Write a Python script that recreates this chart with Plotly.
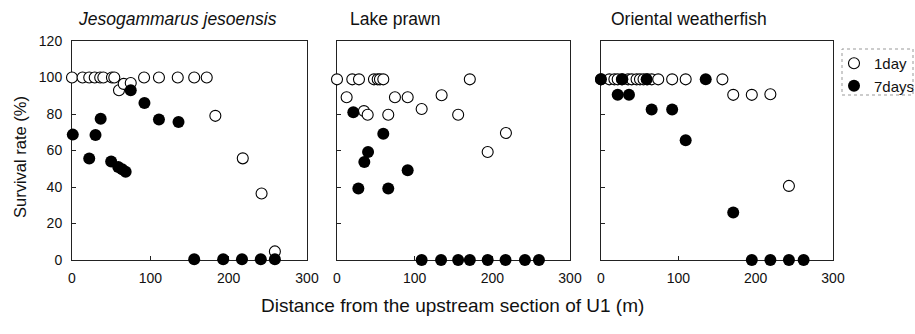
import plotly.graph_objects as go

# ---------------- data ----------------
panel_titles = ["<i>Jesogammarus jesoensis</i>", "Lake prawn", "Oriental weatherfish"]
series_names = ["1day", "7days"]

# Jesogammarus jesoensis
jj_day1_x = [0, 13.5, 22, 29, 36, 40, 51, 54, 60, 66, 75, 92, 111, 135, 156, 172, 183, 218, 242, 259]
jj_day1_y = [100, 100, 100, 100, 100, 100, 100, 100, 93, 96.5, 97, 100, 100, 100, 100, 100, 79, 55.7, 36.4, 4.7]
jj_day7_x = [1, 22, 30, 36.6, 50, 59, 64, 68.5, 75, 92.5, 111, 136, 156, 193, 217, 241, 259]
jj_day7_y = [68.7, 55.6, 68.5, 77.4, 54, 51, 49.7, 48.3, 93, 86, 77, 75.6, 0.4, 0.4, 0.4, 0.4, 0.4]

# Lake prawn
lp_day1_x = [0, 12.4, 19.7, 28.3, 34.7, 39.5, 47.6, 52.4, 55.3, 59.6, 66, 74.6, 91, 109, 134.7, 156, 171, 194, 217.5]
lp_day1_y = [99, 89.2, 99, 99, 81.6, 79.6, 99, 99, 99, 99, 79.6, 89.2, 89.2, 82.7, 90.3, 79.6, 99, 59.2, 69.6]
lp_day7_x = [21, 27.5, 35.2, 40, 59.6, 66, 91, 109, 134, 156, 171, 194, 217, 242, 260]
lp_day7_y = [81, 39.2, 53.7, 59.2, 69.2, 39.2, 49.2, 0, 0, 0, 0, 0, 0, 0, 0]

# Oriental weatherfish
ow_day1_x = [0, 10.8, 17.3, 21.6, 27, 35, 39.7, 46, 50.4, 55, 60, 65.5, 74, 92, 109.5, 157, 171, 195, 219, 243]
ow_day1_y = [99, 99, 99, 99, 99, 99, 99, 99, 99, 99, 99, 99, 99, 99, 99, 99, 90.5, 90.5, 90.8, 40.6]
ow_day7_x = [0, 21.6, 27.6, 36.2, 59, 65.5, 92, 109.5, 135.4, 171, 195, 219, 243, 262]
ow_day7_y = [99, 90.5, 99, 90.5, 99, 82.5, 82.5, 65.6, 99, 26, 0, 0, 0, 0]

x_tick_vals = [0, 100, 200, 300]
x_tick_text = ["0", "100", "200", "300"]
y_tick_vals = [0, 20, 40, 60, 80, 100, 120]
y_tick_text = ["0", "20", "40", "60", "80", "100", "120"]

x_title = "Distance from the upstream section of U1 (m)"
y_title = "Survival rate (%)"

panels = [
    (jj_day1_x, jj_day1_y, jj_day7_x, jj_day7_y),
    (lp_day1_x, lp_day1_y, lp_day7_x, lp_day7_y),
    (ow_day1_x, ow_day1_y, ow_day7_x, ow_day7_y),
]

# ---------------- layout geometry ----------------
W, H = 915, 334
FONT = "Liberation Sans, Arial, sans-serif"
TXT = "#111111"
x_px = [(72, 307), (337, 570), (601, 833)]
y_px = (41, 260)

fig = go.Figure()

for i, (x1, y1, x7, y7) in enumerate(panels):
    xa = "x" if i == 0 else f"x{i+1}"
    ya = "y" if i == 0 else f"y{i+1}"
    fig.add_trace(go.Scatter(
        x=x1, y=y1, mode="markers", name=series_names[0],
        xaxis=xa, yaxis=ya, cliponaxis=False, showlegend=(i == 0),
        marker=dict(size=11, color="white", line=dict(color="black", width=1.1)),
    ))
    fig.add_trace(go.Scatter(
        x=x7, y=y7, mode="markers", name=series_names[1],
        xaxis=xa, yaxis=ya, cliponaxis=False, showlegend=(i == 0),
        marker=dict(size=12, color="black", line=dict(color="black", width=0)),
    ))

layout = dict(
    template="none",
    width=W, height=H,
    margin=dict(l=0, r=0, t=0, b=0, pad=0, autoexpand=False),
    paper_bgcolor="white", plot_bgcolor="white",
    font=dict(family=FONT, color=TXT, size=14),
    showlegend=True,
    legend=dict(
        x=834 / W, y=1 - 47 / H, xanchor="left", yanchor="top",
        bgcolor="rgba(0,0,0,0)", borderwidth=0,
        font=dict(family=FONT, size=15, color=TXT),
        tracegroupgap=0, itemwidth=30,
    ),
)

for i in range(3):
    sfx = "" if i == 0 else str(i + 1)
    x0, x1p = x_px[i]
    layout["xaxis" + sfx] = dict(
        domain=[x0 / W, x1p / W], range=[0, 300],
        showgrid=False, zeroline=False, automargin=False,
        showline=True, mirror=True, linecolor="#222222", linewidth=1,
        ticks="inside", ticklen=4, tickcolor="#222222",
        tickvals=x_tick_vals, ticktext=x_tick_text,
        tickfont=dict(size=14, color=TXT), ticklabelstandoff=5,
        anchor="y" + sfx, layer="below traces", fixedrange=True,
    )
    layout["yaxis" + sfx] = dict(
        domain=[1 - y_px[1] / H, 1 - y_px[0] / H], range=[0, 120],
        showgrid=False, zeroline=False, automargin=False,
        showline=True, mirror=True, linecolor="#222222", linewidth=1,
        ticks="inside", ticklen=4, tickcolor="#222222",
        tickvals=y_tick_vals, ticktext=y_tick_text,
        tickfont=dict(size=14, color=TXT), ticklabelstandoff=6,
        showticklabels=(i == 0),
        anchor="x" + sfx, layer="below traces", fixedrange=True,
    )

fig.update_layout(**layout)

# panel titles
title_x = [76, 348, 609]
for t, tx in zip(panel_titles, title_x):
    fig.add_annotation(
        text=t, x=tx / W, y=1 - 19 / H, xref="paper", yref="paper",
        xanchor="left", yanchor="middle", showarrow=False,
        font=dict(family=FONT, size=17.5, color=TXT),
    )

# axis titles
fig.add_annotation(
    text=x_title, x=452 / W, y=1 - 305 / H, xref="paper", yref="paper",
    xanchor="center", yanchor="middle", showarrow=False,
    font=dict(family=FONT, size=19, color=TXT),
)
fig.add_annotation(
    text=y_title, x=20 / W, y=1 - 157 / H, xref="paper", yref="paper",
    xanchor="center", yanchor="middle", showarrow=False, textangle=-90,
    font=dict(family=FONT, size=16.5, color=TXT),
)

# dotted legend frame
fig.add_shape(
    type="rect", xref="paper", yref="paper",
    x0=842 / W, x1=913 / W, y0=1 - 95 / H, y1=1 - 49 / H,
    line=dict(color="#999999", width=1, dash="dot"), fillcolor="rgba(0,0,0,0)",
    layer="below",
)

fig.write_html(
    "out.html",
    config={"displayModeBar": False, "staticPlot": True},
    post_script="document.body.style.margin='0';document.body.style.padding='0';",
)
